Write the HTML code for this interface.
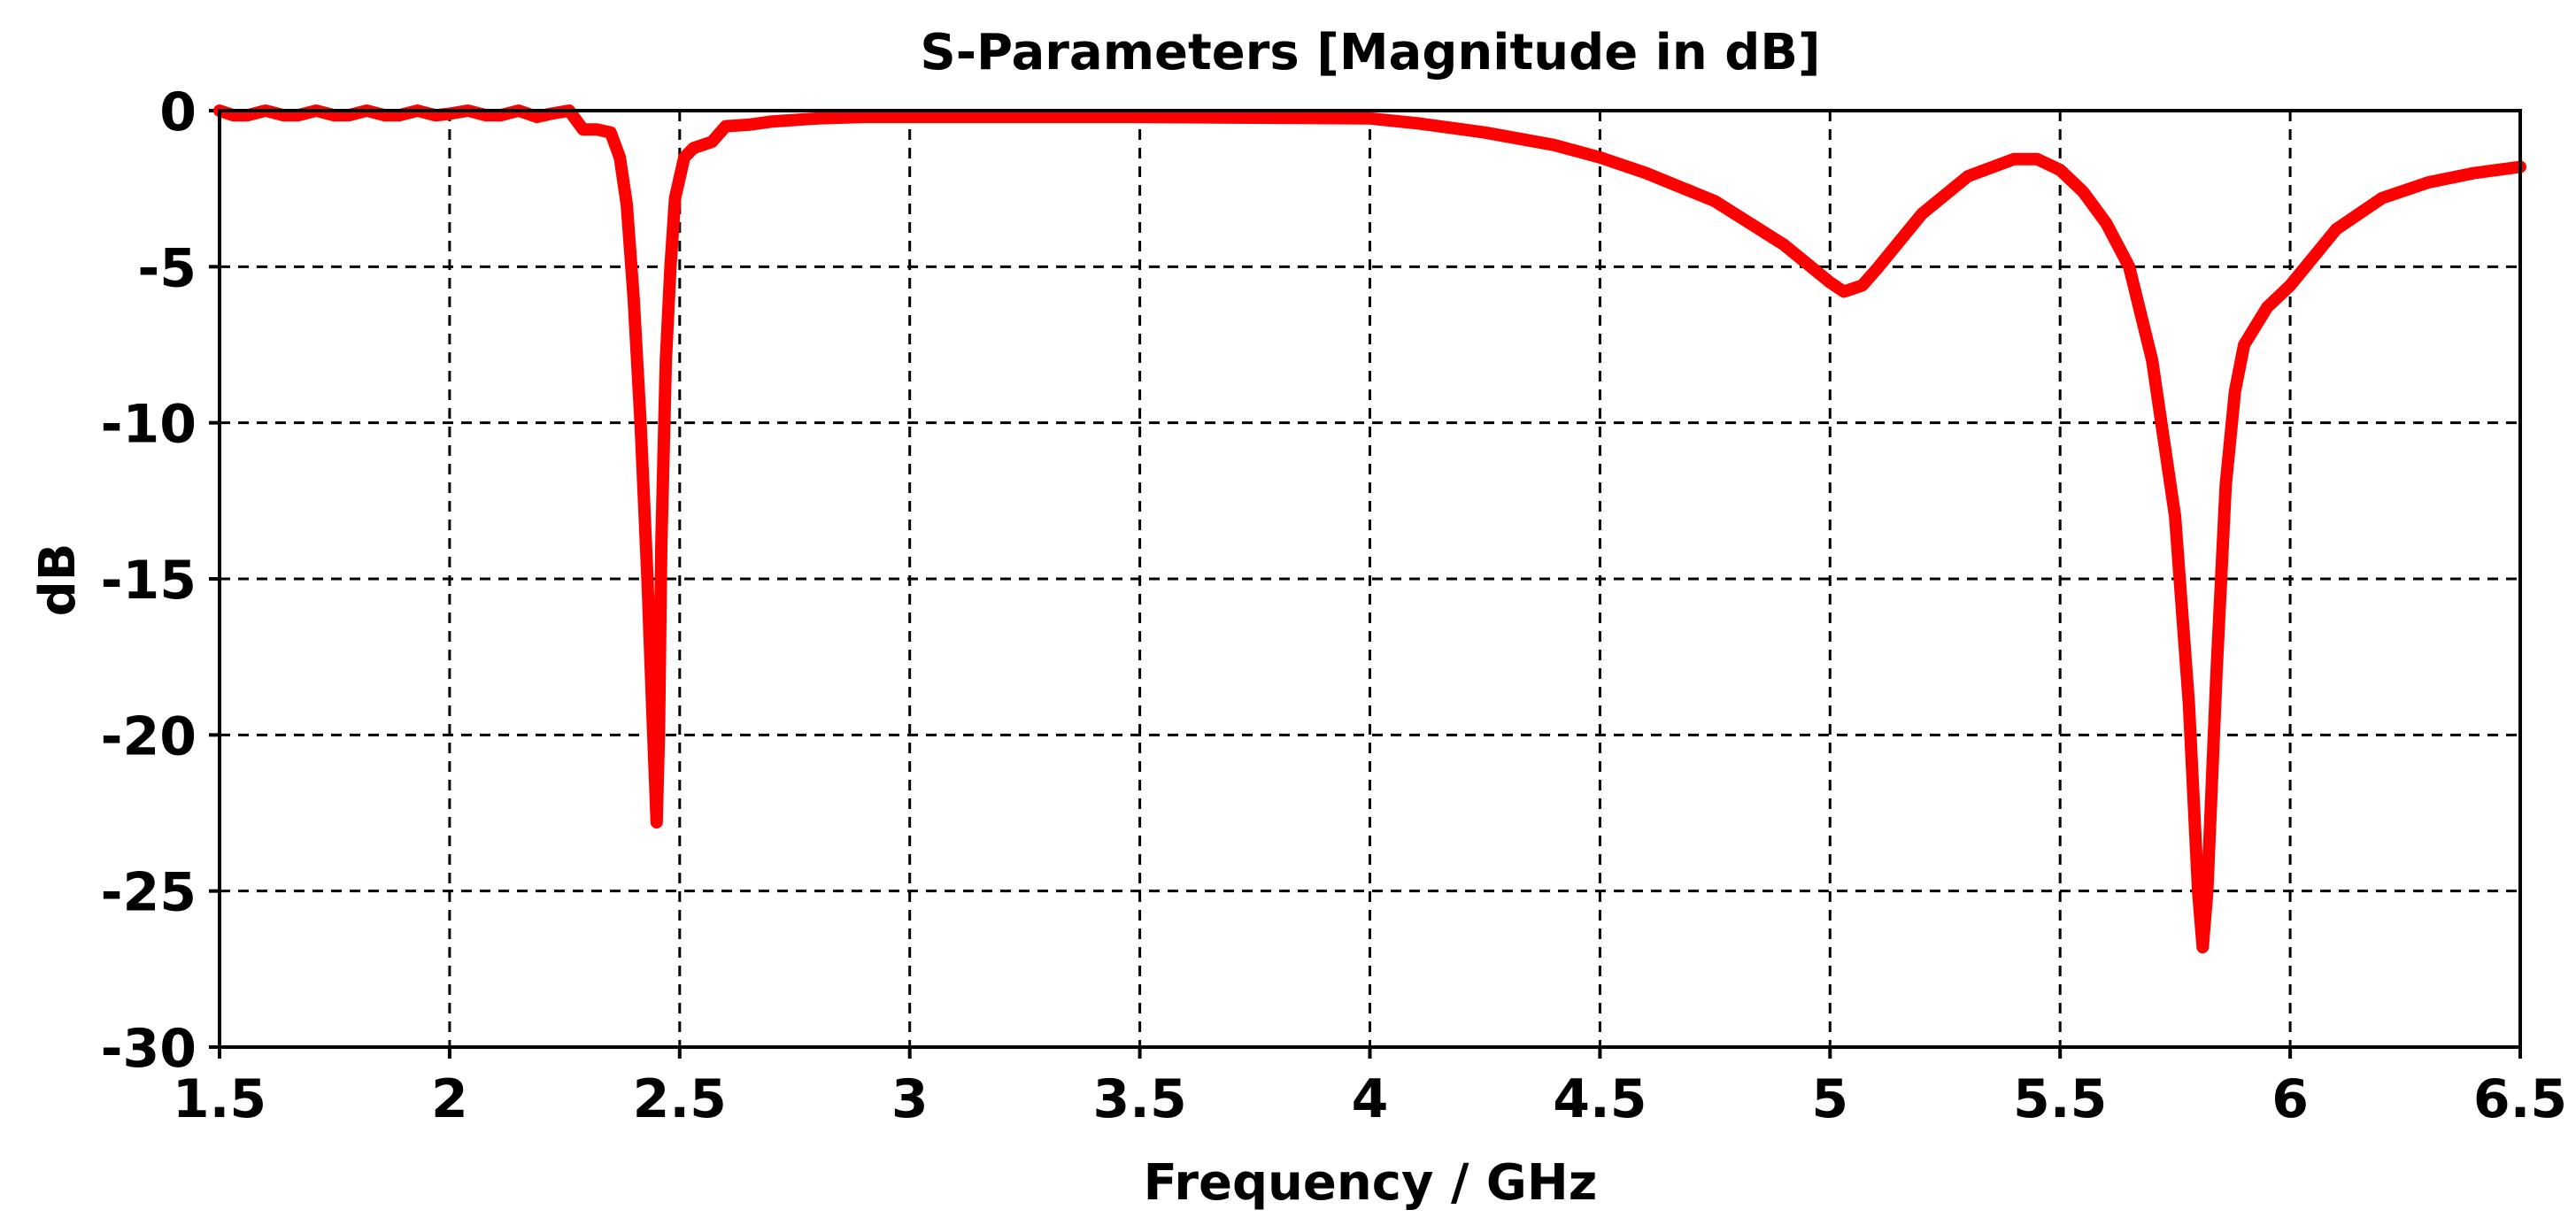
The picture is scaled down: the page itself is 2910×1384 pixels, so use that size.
<!DOCTYPE html>
<html><head><meta charset="utf-8"><style>
html,body{margin:0;padding:0;background:#fff;}
svg text{font-family:"DejaVu Sans","Liberation Sans",sans-serif;font-weight:bold;fill:#000;}
</style></head><body>
<svg id="chart" width="2910" height="1379" viewBox="0 0 2910 1379" xmlns="http://www.w3.org/2000/svg">
<text x="1548" y="78" font-size="56" text-anchor="middle">S-Parameters [Magnitude in dB]</text>
<text x="1548" y="1355" font-size="56" text-anchor="middle">Frequency / GHz</text>
<text x="0" y="0" font-size="56" text-anchor="middle" transform="translate(84,655) rotate(-90)">dB</text>
<g id="grid"></g>
<g id="ticks"></g>
<path id="curve" fill="none" stroke="#ff0000" stroke-width="14" stroke-linejoin="round" stroke-linecap="round"/>
<rect x="248" y="125" width="2599" height="1058" fill="none" stroke="#000" stroke-width="4"/>
</svg>
<script>
const xTicks=[1.5,2,2.5,3,3.5,4,4.5,5,5.5,6,6.5];
const xTickLabels=["1.5","2","2.5","3","3.5","4","4.5","5","5.5","6","6.5"];
const yTicks=[0,-5,-10,-15,-20,-25,-30];
const yTickLabels=["0","-5","-10","-15","-20","-25","-30"];
const freq=[1.5,1.53,1.56,1.6,1.64,1.67,1.71,1.75,1.78,1.82,1.86,1.89,1.93,1.97,2.0,2.04,2.08,2.11,2.15,2.19,2.22,2.26,2.29,2.32,2.35,2.37,2.385,2.40,2.415,2.43,2.44,2.45,2.455,2.46,2.47,2.48,2.49,2.51,2.53,2.57,2.6,2.65,2.7,2.8,2.9,3.0,3.5,4.0,4.1,4.25,4.4,4.5,4.6,4.75,4.9,5.0,5.03,5.07,5.1,5.2,5.3,5.4,5.45,5.5,5.55,5.6,5.65,5.7,5.75,5.78,5.8,5.81,5.82,5.84,5.86,5.88,5.9,5.95,6.0,6.05,6.1,6.2,6.3,6.4,6.5];
const s11=[0,-0.15,-0.15,0,-0.15,-0.15,0,-0.15,-0.15,0,-0.15,-0.15,0,-0.15,-0.1,0,-0.15,-0.15,0,-0.2,-0.1,0,-0.6,-0.6,-0.7,-1.5,-3,-6,-10,-15,-19,-22.8,-20,-14,-8,-5,-2.8,-1.5,-1.2,-1.0,-0.5,-0.45,-0.35,-0.25,-0.2,-0.2,-0.2,-0.25,-0.4,-0.7,-1.1,-1.5,-2.0,-2.9,-4.3,-5.5,-5.8,-5.6,-5.1,-3.3,-2.1,-1.55,-1.55,-1.9,-2.6,-3.6,-5.0,-8,-13,-19,-25,-26.8,-25,-18,-12,-9,-7.5,-6.3,-5.6,-4.7,-3.8,-2.8,-2.3,-2.0,-1.8];
const X=v=>248+(v-1.5)*(2599/5);
const Y=v=>125+(-v)*(1058/30);
const NS="http://www.w3.org/2000/svg";
const grid=document.getElementById('grid'),ticks=document.getElementById('ticks');
xTicks.forEach((t,i)=>{
  const x=X(t);
  if(i>0&&i<xTicks.length-1){const l=document.createElementNS(NS,'line');
    
    
    l.setAttribute('x1',x);l.setAttribute('x2',x);l.setAttribute('y1',125);l.setAttribute('y2',1183);
    l.setAttribute('stroke','#000');l.setAttribute('stroke-width','3');l.setAttribute('stroke-dasharray','12,9');grid.appendChild(l);}
  const tk=document.createElementNS(NS,'line');
  
  
  tk.setAttribute('x1',x);tk.setAttribute('x2',x);tk.setAttribute('y1',1183);tk.setAttribute('y2',1196);
  tk.setAttribute('stroke','#000');tk.setAttribute('stroke-width','4');ticks.appendChild(tk);
  const tx=document.createElementNS(NS,'text');
  
  
  tx.setAttribute('x',x);tx.setAttribute('y',1262);tx.setAttribute('font-size','60');tx.setAttribute('text-anchor','middle');
  tx.textContent=xTickLabels[i];ticks.appendChild(tx);
});
yTicks.forEach((t,i)=>{
  const y=Y(t);
  if(i>0&&i<yTicks.length-1){const l=document.createElementNS(NS,'line');
    
    
    l.setAttribute('x1',248);l.setAttribute('x2',2847);l.setAttribute('y1',y);l.setAttribute('y2',y);
    l.setAttribute('stroke','#000');l.setAttribute('stroke-width','3');l.setAttribute('stroke-dasharray','12,9');grid.appendChild(l);}
  const tk=document.createElementNS(NS,'line');
  
  
  tk.setAttribute('x1',236);tk.setAttribute('x2',248);tk.setAttribute('y1',y);tk.setAttribute('y2',y);
  tk.setAttribute('stroke','#000');tk.setAttribute('stroke-width','4');ticks.appendChild(tk);
  const tx=document.createElementNS(NS,'text');
  
  
  tx.setAttribute('x',222);tx.setAttribute('y',y+22);tx.setAttribute('font-size','60');tx.setAttribute('text-anchor','end');
  tx.textContent=yTickLabels[i];ticks.appendChild(tx);
});
document.getElementById('curve').setAttribute('d',freq.map((f,i)=>(i?'L':'M')+X(f).toFixed(1)+','+Y(s11[i]).toFixed(1)).join(' '));
</script>
</body></html>
